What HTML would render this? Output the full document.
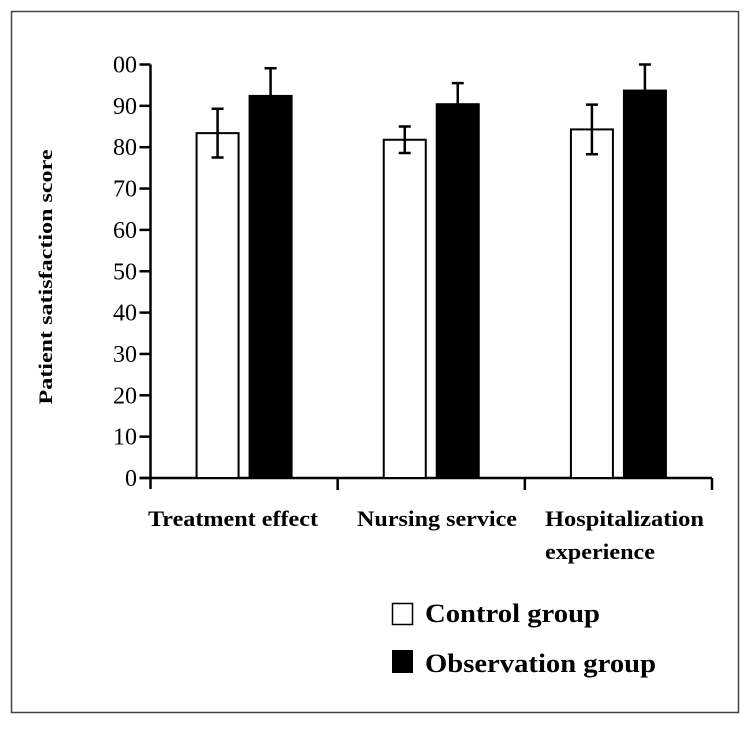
<!DOCTYPE html>
<html><head><meta charset="utf-8"><style>
html,body{margin:0;padding:0;background:#fff;}
svg text{font-family:"Liberation Serif",serif;fill:#000;}
</style></head><body>
<svg width="753" height="726" viewBox="0 0 753 726" xmlns="http://www.w3.org/2000/svg">
<rect x="11.5" y="11.5" width="727" height="701" fill="#fff" stroke="#444" stroke-width="1.5"/>
<g id="axes"></g>
<g id="bars"></g>
<text transform="translate(52,277) rotate(-90)" text-anchor="middle" font-size="19" font-weight="bold" textLength="255" lengthAdjust="spacingAndGlyphs">Patient satisfaction score</text>
<g>
<rect x="392.5" y="603.5" width="20" height="21" fill="#fff" stroke="#000" stroke-width="1.5"/>
<text x="425" y="622" font-size="26" font-weight="bold" textLength="175" lengthAdjust="spacingAndGlyphs">Control group</text>
<rect x="392" y="650" width="21" height="23" fill="#000"/>
<text x="425" y="672" font-size="26" font-weight="bold" textLength="231" lengthAdjust="spacingAndGlyphs">Observation group</text>
</g>
</svg>
<script>
const categories = ["Treatment effect", "Nursing service", "Hospitalization|experience"];
const controlValues = [83.4, 81.8, 84.3];
const controlErrors = [5.9, 3.2, 6.0];
const observationValues = [92.4, 90.4, 93.7];
const observationErrors = [6.7, 5.1, 6.3];
const yTicks = [0,10,20,30,40,50,60,70,80,90,100];
const yTickLabels = ["0","10","20","30","40","50","60","70","80","90","00"];

const NS="http://www.w3.org/2000/svg";
const x0=150.5, x1=712, y0=478, yTop=64.5;
const yScale=v=>y0-(v/100)*(y0-yTop);
const bandW=(x1-x0)/categories.length;
const xCenter=i=>x0+bandW*(i+0.5);
function mk(tag,attrs,parent){const e=document.createElementNS(NS,tag);for(const k in attrs)e.setAttribute(k,attrs[k]);parent.appendChild(e);return e;}
const axes=document.getElementById('axes'), bars=document.getElementById('bars');

let a=mk('line',{x1:x0,y1:yTop,x2:x0,y2:y0+11,stroke:'#000','stroke-width':2.5},axes);


a=mk('line',{x1:x0-11,y1:y0,x2:x1,y2:y0,stroke:'#000','stroke-width':2.5},axes);


yTicks.forEach((t,i)=>{
  const y=yScale(t);
  const l=mk('line',{x1:x0-11,y1:y,x2:x0,y2:y,stroke:'#000','stroke-width':2.5},axes);
  
  
  const tx=mk('text',{x:137,y:y+8,'text-anchor':'end','font-size':24},axes);
  tx.textContent=yTickLabels[i];
  
  
});
for(let i=1;i<=categories.length;i++){
  const x=x0+bandW*i;
  const l=mk('line',{x1:x,y1:y0,x2:x,y2:y0+12,stroke:'#000','stroke-width':2.5},axes);
  
  
}
const labelX=[148,357,545];
const labelLens=[[170],[160],[159,110]];
categories.forEach((c,i)=>{
  const lines=c.split('|');
  const tx=mk('text',{x:labelX[i],y:526,'font-size':22,'font-weight':'bold'},axes);
  lines.forEach((ln,j)=>{const s=mk('tspan',{x:labelX[i],dy:j?33:0,textLength:labelLens[i][j],lengthAdjust:'spacingAndGlyphs'},tx);s.textContent=ln;});
  
  
});
const bw=42, gap=11;
function bar(i,v,e,fill,name){
  const cx=xCenter(i);
  const x= fill==='#fff' ? cx-gap/2-bw : cx+gap/2;
  const y=yScale(v);
  const r=mk('rect',{x:x,y:y,width:bw,height:y0-y,fill:fill,stroke:'#000','stroke-width':2},bars);
  
  
  const mx=x+bw/2;
  const eb=mk('path',{d:`M${mx},${yScale(v+e)}V${fill==='#fff'?yScale(v-e):y}M${mx-6},${yScale(v+e)}H${mx+6}`+(fill==='#fff'?`M${mx-6},${yScale(v-e)}H${mx+6}`:''),stroke:'#000','stroke-width':2.5,fill:'none'},bars);
  
  
}
categories.forEach((c,i)=>{
  bar(i,controlValues[i],controlErrors[i],'#fff','bar-control-'+i);
  bar(i,observationValues[i],observationErrors[i],'#000','bar-observation-'+i);
});
</script>
</body></html>
